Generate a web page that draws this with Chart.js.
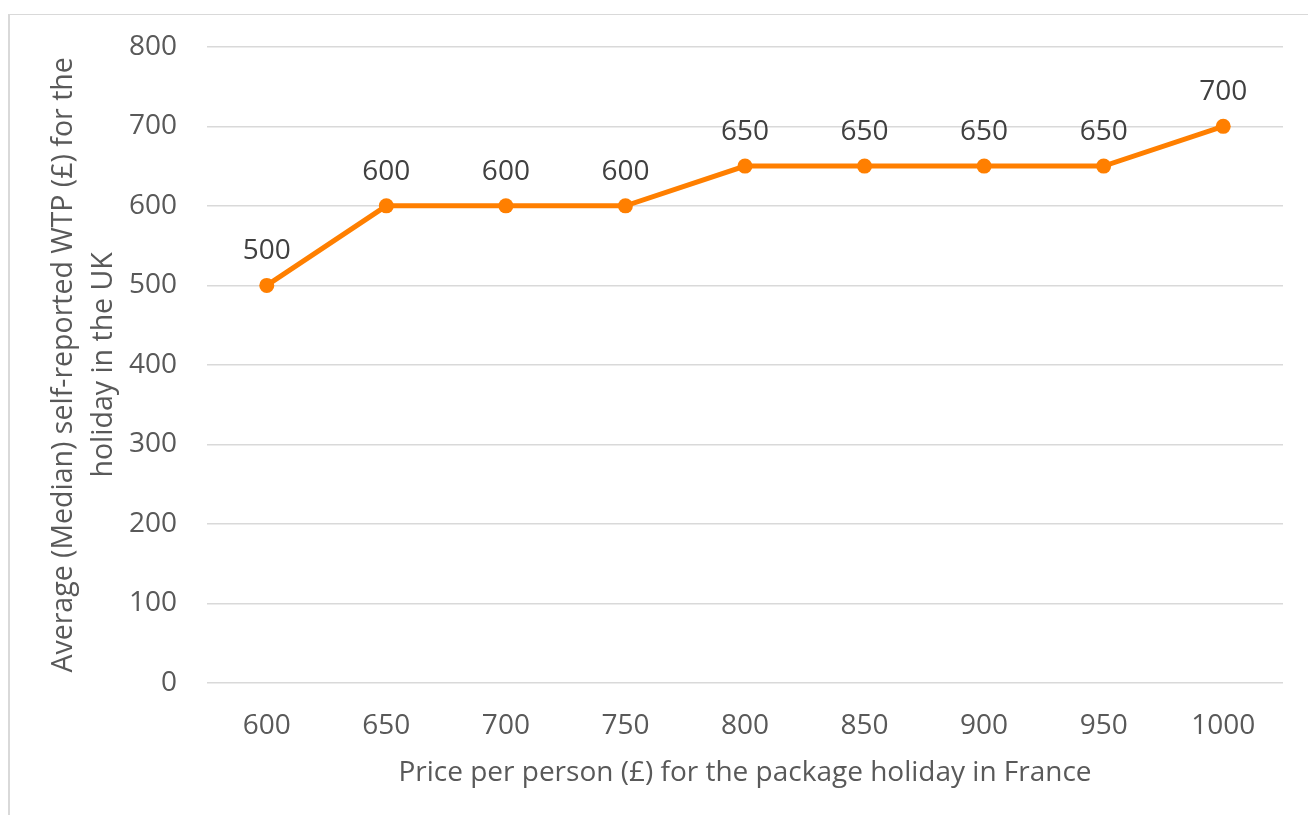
<!DOCTYPE html>
<html>
<head>
<meta charset="utf-8">
<script src="https://cdn.jsdelivr.net/npm/chart.js@4/dist/chart.umd.min.js"></script>
<style>
  html, body { margin: 0; padding: 0; background: #ffffff; }
  #wrap { position: relative; width: 1308px; height: 815px; }
</style>
</head>
<body>
<div id="wrap"><canvas id="c" width="1308" height="815"></canvas></div>
<script>
const categories = ['600', '650', '700', '750', '800', '850', '900', '950', '1000'];
const wtpValues = [500, 600, 600, 600, 650, 650, 650, 650, 700];
const yTickValues = [0, 100, 200, 300, 400, 500, 600, 700, 800];
const xTitle = 'Price per person (£) for the package holiday in France';
const yTitle = ['Average (Median) self-reported WTP (£) for the', 'holiday in the UK'];

const textColor = '#595959';
const fontFamily = '"Open Sans", "Liberation Sans", sans-serif';

const framePlugin = {
  id: 'frame',
  beforeDraw(chart) {
    const ctx = chart.ctx;
    ctx.save();
    ctx.fillStyle = '#d9d9d9';
    ctx.fillRect(8, 14, 1300, 1);
    ctx.fillRect(8, 14, 2, 801);
    ctx.restore();
  }
};

const yTitlePlugin = {
  id: 'yTitle',
  afterDraw(chart) {
    const ctx = chart.ctx;
    const area = chart.chartArea;
    const cy = (area.top + area.bottom) / 2;
    const lineXs = [64, 104];
    ctx.save();
    ctx.font = '28.5px ' + fontFamily;
    ctx.fillStyle = textColor;
    ctx.textAlign = 'center';
    ctx.textBaseline = 'middle';
    yTitle.forEach((line, i) => {
      ctx.save();
      ctx.translate(lineXs[i], cy);
      ctx.rotate(-Math.PI / 2);
      ctx.fillText(line, 0, 0);
      ctx.restore();
    });
    ctx.restore();
  }
};

const labelPlugin = {
  id: 'pointLabels',
  afterDatasetsDraw(chart) {
    const ctx = chart.ctx;
    const meta = chart.getDatasetMeta(0);
    const data = chart.data.datasets[0].data;
    ctx.save();
    ctx.font = '28px ' + fontFamily;
    ctx.fillStyle = '#404040';
    ctx.textAlign = 'center';
    ctx.textBaseline = 'middle';
    meta.data.forEach((pt, i) => {
      ctx.fillText(String(data[i]), pt.x, pt.y - 34);
    });
    ctx.restore();
  }
};

new Chart(document.getElementById('c'), {
  type: 'line',
  data: {
    labels: categories,
    datasets: [{
      data: wtpValues,
      borderColor: '#FF7F00',
      backgroundColor: '#FF7F00',
      borderWidth: 5,
      pointRadius: 7.5,
      pointHoverRadius: 7.5,
      pointBackgroundColor: '#FF7F00',
      pointBorderColor: '#FF7F00',
      pointBorderWidth: 0,
      tension: 0,
      fill: false
    }]
  },
  options: {
    responsive: false,
    animation: false,
    events: [],
    layout: { padding: { top: 46, right: 25, left: 0, bottom: 0 } },
    plugins: {
      legend: { display: false },
      tooltip: { enabled: false }
    },
    scales: {
      x: {
        offset: true,
        grid: { display: false },
        border: { display: false },
        ticks: {
          color: textColor,
          font: { family: fontFamily, size: 28 },
          padding: 18,
          maxRotation: 0
        },
        title: {
          display: true,
          text: xTitle,
          color: textColor,
          font: { family: fontFamily, size: 28, lineHeight: 1.48 },
          padding: { top: 0, bottom: 21 }
        },
        afterFit(scale) { scale.height = 132; }
      },
      y: {
        min: 0,
        max: 800,
        afterBuildTicks(scale) { scale.ticks = yTickValues.map(v => ({ value: v })); },
        grid: { color: '#d9d9d9', lineWidth: 1.5, drawTicks: false },
        border: { display: false },
        ticks: {
          color: textColor,
          font: { family: fontFamily, size: 28 },
          padding: 30
        },
        title: { display: false },
        afterFit(scale) { scale.width = 207; }
      }
    }
  },
  plugins: [framePlugin, labelPlugin, yTitlePlugin]
});
</script>
</body>
</html>
